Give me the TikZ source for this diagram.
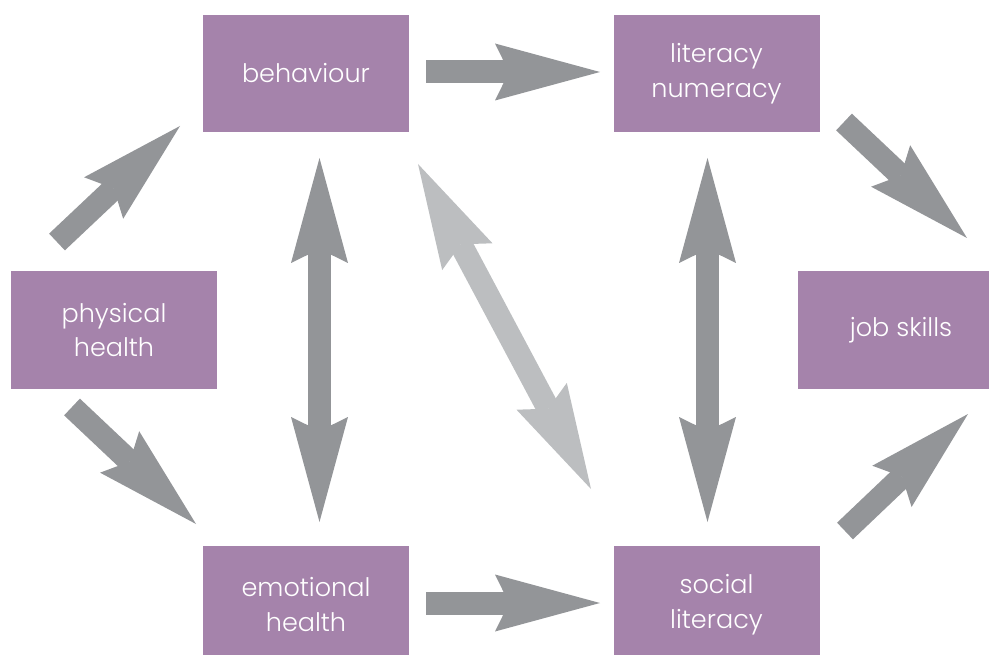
\documentclass[tikz,border=0pt]{standalone}
\usepackage{fontspec}
\setmainfont{Poppins Light}
\usetikzlibrary{arrows.meta,calc}

\definecolor{boxpurple}{HTML}{A583AB}
\definecolor{arrowdark}{HTML}{939598}
\definecolor{arrowlight}{HTML}{BCBEC0}

\begin{document}
\begin{tikzpicture}[x=1pt,y=-1pt,
    >={Stealth[length=105pt,width=57pt,inset=14pt,line width=0pt]},
    topic/.style={fill=boxpurple, minimum width=206pt, minimum height=117pt,
      inner sep=0pt, text=white, align=center,
      font=\fontsize{25.5}{34.5}\selectfont},
    link/.style={draw=arrowdark, line width=23pt, ->},
    twoway/.style={draw=arrowdark, line width=23pt, <->},
    faint/.style={draw=arrowlight}]

  \useasboundingbox (0,0) rectangle (989,655);
  \clip (0,0) rectangle (989,655);

  % topic boxes
  \node[topic] (beh)  at (306,73.5)   {behaviour};
  \node[topic] (lit)  at (716.5,73.5) {literacy\\numeracy};
  \node[topic] (phys) at (114,330)    {physical\\health};
  \node[topic] (job)  at (901,330)    {job skills};
  \node[topic] (emo)  at (306,604.5)  {emotional\\health};
  \node[topic] (soc)  at (716.5,604.5){social\\literacy};

  % free ends of the block arrows
  \coordinate (behlit-a) at (426,72);
  \coordinate (behlit-b) at (600,72);
  \coordinate (emosoc-a) at (426,603);
  \coordinate (emosoc-b) at (600,603);
  \coordinate (behemo-a) at (319.5,158);
  \coordinate (behemo-b) at (319.5,522);
  \coordinate (litsoc-a) at (707.5,158);
  \coordinate (litsoc-b) at (707.5,522);
  \coordinate (behsoc-a) at (418,164);
  \coordinate (behsoc-b) at (591,489);
  \coordinate (physbeh-a) at (57,242);
  \coordinate (physbeh-b) at (180,126);
  \coordinate (physemo-a) at (72,407);
  \coordinate (physemo-b) at (196,524);
  \coordinate (litjob-a) at (844,122);
  \coordinate (litjob-b) at (967,238);
  \coordinate (socjob-a) at (845,531);
  \coordinate (socjob-b) at (968,414);

  % one-way links
  \draw[link] (behlit-a) -- (behlit-b);
  \draw[link] (emosoc-a) -- (emosoc-b);
  \draw[link] (physbeh-a) -- (physbeh-b);
  \draw[link] (physemo-a) -- (physemo-b);
  \draw[link] (litjob-a) -- (litjob-b);
  \draw[link] (socjob-a) -- (socjob-b);

  % two-way links
  \draw[twoway] (behemo-a) -- (behemo-b);
  \draw[twoway] (litsoc-a) -- (litsoc-b);
  \draw[twoway, faint] (behsoc-a) -- (behsoc-b);
\end{tikzpicture}
\end{document}
